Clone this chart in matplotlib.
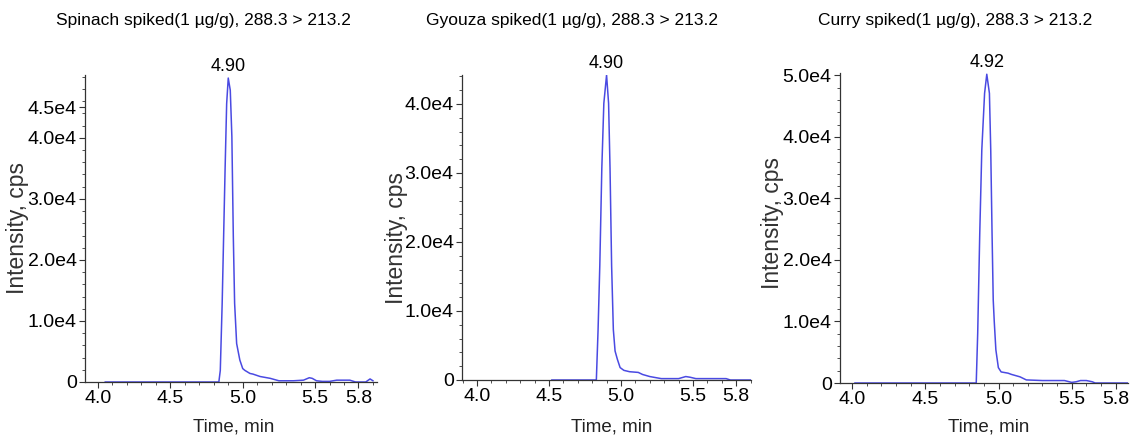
import numpy as np
import matplotlib
matplotlib.use('Agg')
import matplotlib.pyplot as plt
from matplotlib.ticker import FixedLocator, MultipleLocator

plt.rcParams['font.family'] = ['Liberation Sans', 'DejaVu Sans']

# --- Data, intensity in cps ---
titles = ['Spinach spiked(1 \u00b5g/g), 288.3 > 213.2',
          'Gyouza spiked(1 \u00b5g/g), 288.3 > 213.2',
          'Curry spiked(1 \u00b5g/g), 288.3 > 213.2']
peak_rt = ['4.90', '4.90', '4.92']

spinach_t = [4.05, 4.50, 4.80, 4.835, 4.845, 4.858, 4.868, 4.878, 4.889, 4.900,
             4.914, 4.925, 4.935, 4.944, 4.958, 4.980, 5.000, 5.015, 5.050, 5.070,
             5.120, 5.190, 5.250, 5.350, 5.420, 5.460, 5.480, 5.510, 5.550, 5.600,
             5.650, 5.700, 5.740, 5.780, 5.850, 5.880, 5.900]
spinach_i = [0, 0, 0, 0, 1900, 12900, 23800, 34700, 45600, 49800,
             47800, 40200, 23800, 12900, 6300, 3600, 2200, 1900, 1400, 1300,
             900, 600, 200, 200, 300, 700, 600, 200, 100, 100,
             300, 300, 300, 0, 0, 500, 200]

gyouza_t = [4.52, 4.80, 4.829, 4.841, 4.853, 4.867, 4.881, 4.900, 4.914, 4.924,
            4.935, 4.947, 4.959, 4.975, 4.994, 5.020, 5.060, 5.120, 5.150, 5.200,
            5.280, 5.400, 5.450, 5.480, 5.520, 5.600, 5.700, 5.730, 5.760, 5.900]
gyouza_i = [0, 0, 0, 7300, 16600, 30700, 40100, 44200, 40100, 30700,
            16600, 7300, 4200, 3000, 1800, 1400, 1200, 1100, 800, 500,
            200, 200, 500, 400, 200, 200, 200, 200, 0, 0]

curry_t = [4.02, 4.50, 4.848, 4.858, 4.872, 4.886, 4.905, 4.920, 4.938, 4.947,
           4.956, 4.964, 4.971, 4.982, 4.999, 5.018, 5.065, 5.088, 5.147, 5.190,
           5.300, 5.450, 5.500, 5.530, 5.560, 5.600, 5.640, 5.660, 5.890]
curry_i = [0, 0, 0, 8100, 24300, 37900, 47100, 50200, 47100, 37900,
           24300, 13500, 10000, 5400, 2500, 1800, 1600, 1400, 1000, 500,
           400, 400, 100, 200, 400, 400, 200, 0, 0]

series = [(spinach_t, spinach_i), (gyouza_t, gyouza_i), (curry_t, curry_i)]

yticks = [[0, 1e4, 2e4, 3e4, 4e4, 4.5e4],
          [0, 1e4, 2e4, 3e4, 4e4],
          [0, 1e4, 2e4, 3e4, 4e4, 5e4]]
xticks = [4.0, 4.5, 5.0, 5.5, 5.8]
xtick_labels = ['4.0', '4.5', '5.0', '5.5', '5.8']

# --- Layout ---
W, H = 1132, 441
axes_px = [(85, 59, 292, 307), (462, 61, 289, 305), (840, 58, 288, 310)]
xlims = [(3.910, 5.928), (3.896, 5.903), (3.918, 5.884)]
ylims = [5.03e4, 4.42e4, 5.04e4]
title_x = [203, 572, 955]
ylabel_pos = [(18, 228), (397, 238), (773, 223)]
xlabel_x = [234, 612, 989]

LINE = '#4a4ae2'
AXC = '#333333'


def fmt_y(v):
    if v == 0:
        return '0'
    return f'{v / 1e4:.1f}e4'


fig = plt.figure(figsize=(W / 100, H / 100), dpi=100)

for k in range(3):
    l, b, w, h = axes_px[k]
    ax = fig.add_axes([l / W, b / H, w / W, h / H])
    t, inten = series[k]
    ax.plot(t, inten, color=LINE, lw=1.1, solid_joinstyle='round')

    ax.set_xlim(*xlims[k])
    ax.set_ylim(0, ylims[k])
    for s in ['top', 'right']:
        ax.spines[s].set_visible(False)
    for s in ['left', 'bottom']:
        ax.spines[s].set_color(AXC)
        ax.spines[s].set_linewidth(0.9)

    ax.xaxis.set_major_locator(FixedLocator(xticks))
    ax.set_xticklabels(xtick_labels)
    ax.xaxis.set_minor_locator(MultipleLocator(0.1))
    ax.yaxis.set_major_locator(FixedLocator(yticks[k]))
    ax.set_yticklabels([fmt_y(v) for v in yticks[k]])
    ax.yaxis.set_minor_locator(MultipleLocator(2000))

    ax.tick_params(axis='both', which='major', direction='out', length=4,
                   width=0.8, color=AXC, labelsize=14, pad=2)
    ax.tick_params(axis='both', which='minor', direction='out', length=2.5,
                   width=0.6, color=AXC)

    # peak retention time label
    i_max = int(np.argmax(inten))
    ax.annotate(peak_rt[k], xy=(t[i_max], inten[i_max]), xytext=(0, 2),
                textcoords='offset points', ha='center', va='bottom',
                fontsize=13, annotation_clip=False)

    fig.text(title_x[k] / W, 1 - 20 / H, titles[k], ha='center', va='center',
             fontsize=12.5)
    fig.text(ylabel_pos[k][0] / W, 1 - ylabel_pos[k][1] / H, 'Intensity, cps',
             rotation=90, ha='center', va='center', fontsize=16.5, color='#333333')
    fig.text(xlabel_x[k] / W, 1 - 427 / H, 'Time, min', ha='center', va='center',
             fontsize=13.5, color='#222222')

fig.savefig('out.png', dpi=100)
